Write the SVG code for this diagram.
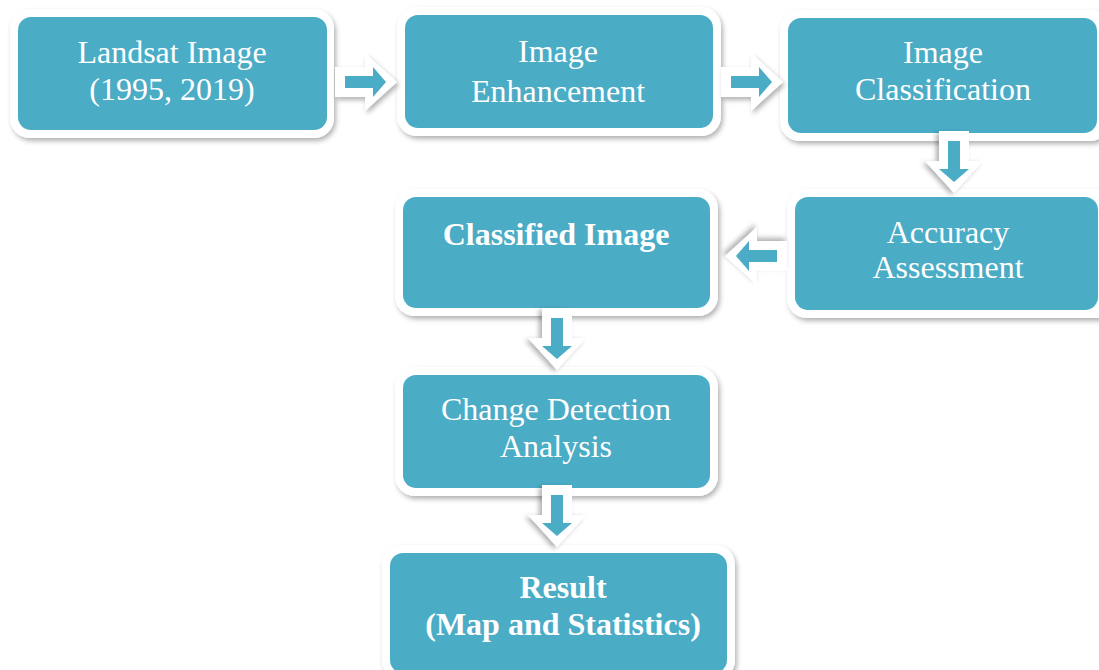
<svg xmlns="http://www.w3.org/2000/svg" width="1099" height="670" viewBox="0 0 1099 670">
<defs>
<filter id="sh" x="-10%" y="-10%" width="120%" height="130%">
<feDropShadow dx="2" dy="3" stdDeviation="2.5" flood-color="#000" flood-opacity="0.3"/>
</filter>
<g id="arr">
<polygon points="-30,-15 0,-15 0,-29 32,0 0,29 0,15 -30,15" fill="#fff" filter="url(#sh)"/>
<polygon points="-20,-6 8,-6 8,-15 21,0 8,15 8,6 -20,6" fill="#4BACC6"/>
</g>
</defs>
<style>
.o{fill:#fff;filter:url(#sh)}
.t{fill:#4BACC6}
text{font-family:"Liberation Serif","Times New Roman",serif;font-size:32px;fill:#fff;text-anchor:middle}
.b{font-weight:bold}
</style>
<rect width="1099" height="670" fill="#fff"/>
<g id="n1">
<rect class="o" x="10" y="9" width="324" height="129" rx="20"/>
<rect class="t" x="18" y="17" width="309" height="113" rx="13"/>
<text x="172" y="63">Landsat Image</text>
<text x="172" y="100">(1995, 2019)</text>
</g>
<g id="n2">
<rect class="o" x="397" y="7" width="324" height="129" rx="20"/>
<rect class="t" x="405" y="15" width="308" height="113" rx="13"/>
<text x="558" y="62">Image</text>
<text x="558" y="102">Enhancement</text>
</g>
<g id="n3">
<rect class="o" x="780" y="10" width="330" height="131" rx="20"/>
<rect class="t" x="788" y="18" width="309" height="115" rx="13"/>
<text x="943" y="63">Image</text>
<text x="943" y="100">Classification</text>
</g>
<g id="n4">
<rect class="o" x="787" y="189" width="330" height="129" rx="20"/>
<rect class="t" x="795" y="197" width="303" height="113" rx="13"/>
<text x="948" y="243">Accuracy</text>
<text x="948" y="278">Assessment</text>
</g>
<g id="n5">
<rect class="o" x="395" y="189" width="323" height="127" rx="20"/>
<rect class="t" x="403" y="197" width="307" height="111" rx="13"/>
<text class="b" x="556" y="245">Classified Image</text>
</g>
<g id="n6">
<rect class="o" x="395" y="367" width="323" height="129" rx="20"/>
<rect class="t" x="403" y="375" width="307" height="113" rx="13"/>
<text x="556" y="420">Change Detection</text>
<text x="556" y="457">Analysis</text>
</g>
<g id="n7">
<rect class="o" x="382" y="545" width="353" height="135" rx="20"/>
<rect class="t" x="390" y="553" width="337" height="120" rx="13"/>
<text class="b" x="563" y="598">Result</text>
<text class="b" x="563" y="635">(Map and Statistics)</text>
</g>
<g id="connectors">
<use href="#arr" transform="translate(365,82)"/>
<use href="#arr" transform="translate(751,82)"/>
<use href="#arr" transform="translate(954,161) rotate(90)"/>
<use href="#arr" transform="translate(757,256) rotate(180)"/>
<use href="#arr" transform="translate(557,338) rotate(90)"/>
<use href="#arr" transform="translate(557,515) rotate(90)"/>
</g>
</svg>
